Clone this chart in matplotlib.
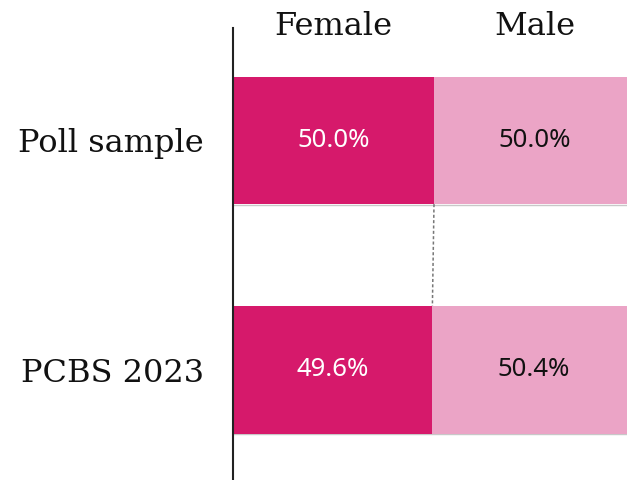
import matplotlib
matplotlib.use("Agg")
import matplotlib.pyplot as plt
import numpy as np

# data
categories = ["Poll sample", "PCBS 2023"]
female = [50.0, 49.6]
male = [50.0, 50.4]
series_names = ["Female", "Male"]
colors = ["#d6196b", "#eba4c6"]
text_colors = ["white", "#111111"]

bar_h = 0.555
ypos = np.arange(len(categories))

fig = plt.figure(figsize=(6.27, 4.8), dpi=100)
ax = fig.add_axes([233 / 627, 0.0, (635 - 233) / 627, (480 - 28) / 480])

# thin grey shadow line under each bar
ax.hlines(ypos + bar_h / 2 + 0.004, 0, 100, color="#c8c8c8", lw=1.0, zorder=1)

lefts = np.zeros(len(categories))
for name, vals, col, tcol in zip(series_names, [female, male], colors, text_colors):
    ax.barh(ypos, vals, left=lefts, height=bar_h, color=col, edgecolor="none", zorder=2)
    for y, l, v in zip(ypos, lefts, vals):
        ax.text(l + v / 2, y, f"{v:.1f}%", ha="center", va="center",
                color=tcol, fontsize=18.5, family="Noto Sans", zorder=3)
    # header over first bar
    ax.text(lefts[0] + vals[0] / 2, -0.496, name, ha="center", va="center",
            fontsize=23, family="DejaVu Serif", color="#111111", clip_on=False)
    lefts = lefts + np.array(vals)

# dashed connector between female/male boundaries
ax.plot([female[0], female[1]], [ypos[0] + bar_h / 2, ypos[1] - bar_h / 2],
        ls=(0, (2, 1.5)), color="#777777", lw=1.1, zorder=1)

ax.set_xlim(0, 100)
ax.set_ylim(1.48, -0.49)
ax.set_yticks(ypos)
ax.set_yticklabels(categories, fontsize=23, family="DejaVu Serif", color="#111111")
ax.set_xticks([])
ax.tick_params(axis="y", length=0, pad=21)
for s in ["top", "right", "bottom"]:
    ax.spines[s].set_visible(False)
ax.spines["left"].set_color("#222222")
ax.spines["left"].set_linewidth(1.5)
ax.spines["left"].set_zorder(4)

fig.savefig("out.png", dpi=100)
